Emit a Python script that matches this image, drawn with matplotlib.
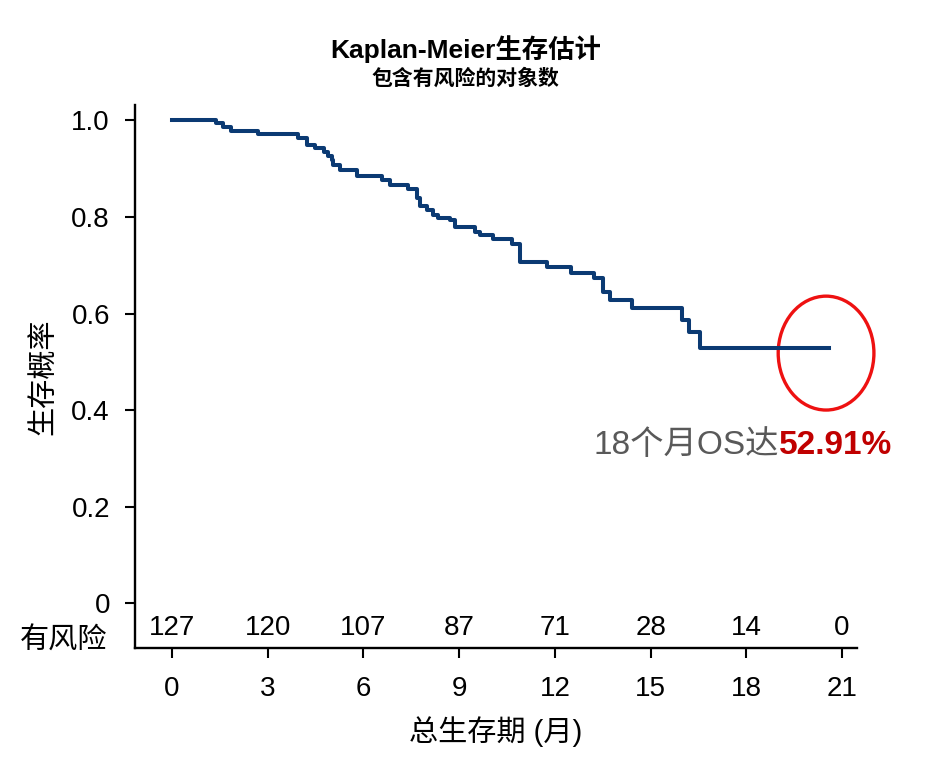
import matplotlib
matplotlib.use("Agg")
import matplotlib.pyplot as plt
from matplotlib.patches import Ellipse
import matplotlib.transforms as mtransforms

plt.rcParams['font.family'] = ['Liberation Sans', 'Noto Sans CJK SC', 'DejaVu Sans']

# 生存曲线的阶梯点 (月, 生存概率)
event_times = [0, 1.38, 1.60, 1.85, 2.70, 3.96, 4.22, 4.48, 4.78, 4.90, 5.00, 5.06,
               5.27, 5.79, 6.57, 6.83, 7.41, 7.67, 7.77, 7.98, 8.19, 8.35, 8.71,
               8.87, 9.50, 9.66, 10.07, 10.65, 10.91, 11.75, 12.51, 13.24, 13.52,
               13.73, 14.41, 15.98, 16.19, 16.55, 20.6]
survival = [1.0, 0.994, 0.986, 0.978, 0.971, 0.964, 0.950, 0.943, 0.935, 0.927, 0.918,
            0.908, 0.897, 0.884, 0.877, 0.866, 0.857, 0.839, 0.823, 0.815, 0.804,
            0.798, 0.793, 0.780, 0.769, 0.763, 0.754, 0.744, 0.707, 0.697, 0.685,
            0.673, 0.645, 0.627, 0.611, 0.587, 0.562, 0.5291, 0.5291]

# 有风险人数表
risk_times = [0, 3, 6, 9, 12, 15, 18, 21]
at_risk = [127, 120, 107, 87, 71, 28, 14, 0]

y_ticks = [0, 0.2, 0.4, 0.6, 0.8, 1.0]
y_labels = ['0', '0.2', '0.4', '0.6', '0.8', '1.0']

fig = plt.figure(figsize=(9.27, 7.6), dpi=100)
ax = fig.add_axes([0.1456, 0.1474, 0.7789, 0.7144])

ax.step(event_times, survival, where='post', color='#0b3a73', lw=2.9)

ax.set_xlim(-1.16, 21.47)
ax.set_ylim(-0.093, 1.032)
ax.set_xticks(risk_times)
ax.set_yticks(y_ticks)
ax.set_yticklabels(y_labels)
ax.tick_params(axis='both', direction='out', length=7, width=1.5, labelsize=20)
ax.tick_params(axis='x', pad=13)
ax.tick_params(axis='y', pad=11)
for s in ['top', 'right']:
    ax.spines[s].set_visible(False)
for s in ['left', 'bottom']:
    ax.spines[s].set_linewidth(1.7)

ax.set_ylabel('生存概率', fontsize=21, labelpad=10)
ax.set_xlabel('总生存期 (月)', fontsize=21, labelpad=10)

# 有风险人数
for t, n in zip(risk_times, at_risk):
    ax.text(t, -0.052, str(n), ha='center', va='center', fontsize=20)
trans = mtransforms.blended_transform_factory(ax.transAxes, ax.transData)
ax.text(-0.039, -0.077, '有风险', transform=trans, ha='right', va='center', fontsize=21)

# 标注
ax.add_patch(Ellipse((20.5, 0.518), 3.0, 0.236, fill=False, edgecolor='#ee1111',
                     lw=2.4, clip_on=False))
ax.text(19.03, 0.326, '18个月OS达', ha='right', va='center', fontsize=24, color='#595959')
ax.text(19.03, 0.326, '52.91%', ha='left', va='center', fontsize=24, color='#c00000',
        fontweight='bold')

fig.text(0.502, 0.935, 'Kaplan-Meier生存估计', ha='center', va='center', fontsize=19,
         fontweight='bold')
fig.text(0.502, 0.897, '包含有风险的对象数', ha='center', va='center', fontsize=15,
         fontweight='bold')

fig.savefig('out.png', dpi=100)
